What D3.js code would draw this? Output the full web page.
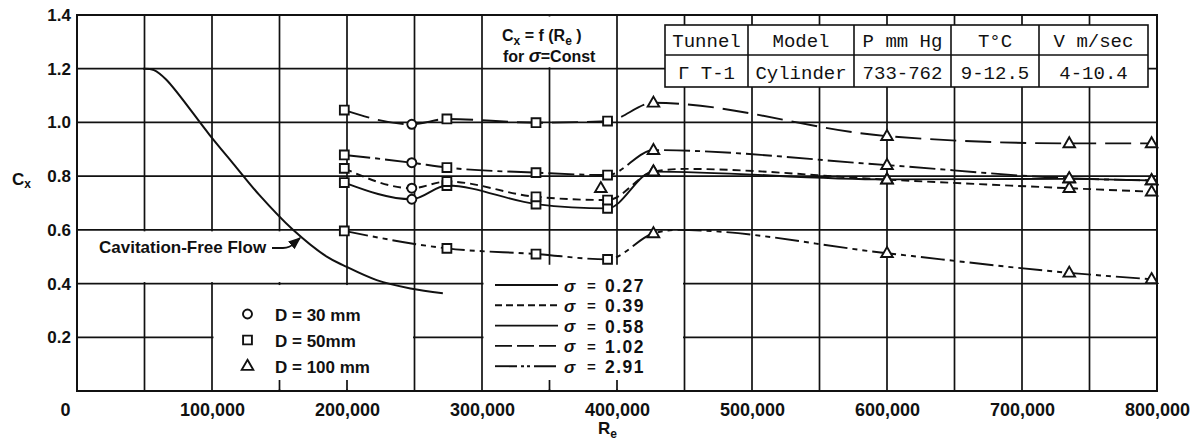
<!DOCTYPE html>
<html><head><meta charset="utf-8">
<script src="https://cdn.jsdelivr.net/npm/d3@7"></script>
<style>
body{margin:0;background:#fff;}
svg{display:block;}
text{font-family:"Liberation Sans",Arial,sans-serif;font-weight:bold;fill:#111;}
.mono{font-family:"Liberation Mono","DejaVu Sans Mono",monospace;font-weight:normal;}
</style></head><body>
<svg id="chart" width="1200" height="442"></svg>
<script>
// ---------------- data ----------------
const xTicks = [0,100000,200000,300000,400000,500000,600000,700000,800000];
const yTicks = [0.2,0.4,0.6,0.8,1.0,1.2,1.4];
const xGridVals = [50000,100000,150000,200000,250000,300000,350000,400000,450000,500000,550000,600000,650000,700000,750000];
const yGridVals = [0.2,0.4,0.6,0.8,1.0,1.2];

const sigmaLabels = ["0.27","0.39","0.58","1.02","2.91"];
const diameterLabels = ["D = 30 mm","D = 50mm","D = 100 mm"];
const diameterMarkers = ["c","s","t"];

// [Re, Cx, marker]  c = D 30 mm, s = D 50 mm, t = D 100 mm
const sigma027 = [[198000,0.776,"s"],[248000,0.714,"c"],[274000,0.765,"s"],[340000,0.696,"s"],[393000,0.680,"s"],[427000,0.817,"t"],[600000,0.788,"t"],[735000,0.790,"t"],[796000,0.784,"t"]];
const sigma039 = [[198000,0.829,"s"],[248000,0.755,"c"],[274000,0.780,"s"],[340000,0.723,"s"],[393000,0.711,"s"],[427000,0.817,"t"],[450000,0.827,null],[600000,0.787,"t"],[735000,0.755,"t"],[796000,0.742,"t"]];
const sigma058 = [[198000,0.879,"s"],[248000,0.850,"c"],[274000,0.832,"s"],[340000,0.813,"s"],[393000,0.804,"s"],[427000,0.897,"t"],[600000,0.841,"t"],[735000,0.792,"t"],[796000,0.784,"t"]];
const sigma102 = [[198000,1.046,"s"],[248000,0.993,"c"],[274000,1.013,"s"],[340000,0.999,"s"],[393000,1.005,"s"],[427000,1.073,"t"],[600000,0.949,"t"],[735000,0.922,"t"],[796000,0.922,"t"]];
const sigma291 = [[198000,0.596,"s"],[274000,0.531,"s"],[340000,0.510,"s"],[393000,0.490,"s"],[427000,0.587,"t"],[445000,0.600,null],[600000,0.513,"t"],[735000,0.440,"t"],[796000,0.416,"t"]];
const strayPoints = [[388000,0.755,"t"]];

const cavFreeRe = [49000,57000,66000,98000,116000,135000,160000,185000,197000,222000,247000,271000];
const cavFreeCx = [1.200,1.195,1.160,0.955,0.845,0.730,0.600,0.500,0.469,0.413,0.382,0.364];

const tableHead = ["Tunnel","Model","P mm Hg","T°C","V m/sec"];
const tableRow  = ["Γ T-1","Cylinder","733-762","9-12.5","4-10.4"];

// ---------------- styles ----------------
const seriesData = {"0.27":sigma027,"0.39":sigma039,"0.58":sigma058,"1.02":sigma102,"2.91":sigma291};
const plotDash   = {"0.27":null,"0.39":"8,5","0.58":"26,5,5,5","1.02":"26,9","2.91":"24,5,5,5,5,5"};
const legendDash = {"0.27":null,"0.39":"7,4","0.58":null,"1.02":"17,5","2.91":"22,4,3,3,3,4"};
const INK = "#111";

// ---------------- scales ----------------
const x = d3.scaleLinear().domain([0,800000]).range([77,1157]);
const y = d3.scaleLinear().domain([0,1.4]).range([391,15]);

const svg = d3.select("#chart");

// grid
const grid = svg.append("g").attr("stroke",INK).attr("stroke-width",1.7);
grid.selectAll("line.v").data(xGridVals).join("line")
  .attr("x1",d=>x(d)).attr("x2",d=>x(d)).attr("y1",y(1.4)).attr("y2",y(0));
grid.selectAll("line.h").data(yGridVals).join("line")
  .attr("x1",x(0)).attr("x2",x(800000)).attr("y1",d=>y(d)).attr("y2",d=>y(d));

// blanked areas of the grid (label boxes)
const blanks = svg.append("g").attr("fill","#fff");
function blank(x0,x1,y0,y1){ blanks.append("rect").attr("x",x0).attr("y",y0).attr("width",x1-x0).attr("height",y1-y0); }
blank(x(300000)+1.5, x(400000)-1.5, y(1.4)+1.5, y(1.2)-1.5);      // formula box
blank(x(0)+1.5, x(200000)-1.5, y(0.6)+1.5, y(0.4)-1.5);           // cavitation label
blank(x(100000)+1.5, x(250000)-1.5, y(0.4)+1.5, y(0)-1.5);        // D legend
blank(x(300000)+1.5, x(450000)-1.5, y(0.47), y(0)-1.5);           // sigma legend
// bottom ticks under blanked areas
const tickG = svg.append("g").attr("stroke",INK).attr("stroke-width",1.7);
[150000,200000,350000,400000].forEach(v=>{
  tickG.append("line").attr("x1",x(v)).attr("x2",x(v)).attr("y1",y(0)-11).attr("y2",y(0));
});

// frame
svg.append("rect").attr("x",x(0)).attr("y",y(1.4)).attr("width",x(800000)-x(0)).attr("height",y(0)-y(1.4))
  .attr("fill","none").attr("stroke",INK).attr("stroke-width",2);

// table
const colX = [665,748,854,951,1039,1148];
const rowY = [25,55,87];
const tbl = svg.append("g");
tbl.append("rect").attr("x",colX[0]).attr("y",rowY[0]).attr("width",colX[5]-colX[0]).attr("height",rowY[2]-rowY[0])
  .attr("fill","#fff").attr("stroke",INK).attr("stroke-width",1.6);
tbl.append("line").attr("x1",colX[0]).attr("x2",colX[5]).attr("y1",rowY[1]).attr("y2",rowY[1]).attr("stroke",INK).attr("stroke-width",1.6);
colX.slice(1,5).forEach(cx=>tbl.append("line").attr("x1",cx).attr("x2",cx).attr("y1",rowY[0]).attr("y2",rowY[2]).attr("stroke",INK).attr("stroke-width",1.6));
[tableHead,tableRow].forEach((row,ri)=>{
  tbl.selectAll(null).data(row).join("text").attr("class","mono")
    .attr("x",(d,i)=>(colX[i]+colX[i+1])/2).attr("y",ri===0?47:79)
    .attr("text-anchor","middle").attr("font-size",19).text(d=>d);
});

// curves
const line = d3.line().x(d=>x(d[0])).y(d=>y(d[1])).curve(d3.curveMonotoneX);
const curves = svg.append("g").attr("fill","none").attr("stroke",INK).attr("stroke-width",1.9);
const cavPts = cavFreeRe.map((r,i)=>[r,cavFreeCx[i]]);
curves.append("path").attr("d",d3.line().x(d=>x(d[0])).y(d=>y(d[1])).curve(d3.curveCatmullRom.alpha(0.5))(cavPts)).attr("stroke-width",2);
sigmaLabels.forEach(s=>{
  curves.append("path").attr("d",line(seriesData[s])).attr("stroke-dasharray",plotDash[s]);
});

// markers
function marker(g,type,cx,cy){
  const sym = type==="c"?d3.symbolCircle:type==="s"?d3.symbolSquare:d3.symbolTriangle;
  const size = type==="c"?64:type==="s"?78:58;
  g.append("path").attr("d",d3.symbol().type(sym).size(size)())
    .attr("transform",`translate(${cx},${cy + (type==="t"?0.5:0)})`)
    .attr("fill","#fff").attr("stroke",INK).attr("stroke-width",1.9);
}
const mg = svg.append("g");
sigmaLabels.forEach(s=>seriesData[s].forEach(d=>{ if(d[2]) marker(mg,d[2],x(d[0]),y(d[1])); }));
strayPoints.forEach(d=>marker(mg,d[2],x(d[0]),y(d[1])));

// axes
const xAxis = svg.append("g").attr("transform",`translate(0,${y(0)})`)
  .call(d3.axisBottom(x).tickValues(xTicks).tickFormat(d3.format(",")).tickSize(0).tickPadding(12));
xAxis.select(".domain").remove();
xAxis.attr("font-size",18).attr("font-family",null);
xAxis.selectAll("text").filter(d=>d===0).attr("x",-12);
const yAxis = svg.append("g").attr("transform",`translate(${x(0)},0)`)
  .call(d3.axisLeft(y).tickValues(yTicks).tickFormat(d3.format(".1f")).tickSize(0).tickPadding(6));
yAxis.select(".domain").remove();
yAxis.attr("font-size",17).attr("font-family",null);

// axis titles
const cxT = svg.append("text").attr("x",12).attr("y",185).attr("font-size",17);
cxT.append("tspan").text("C");
cxT.append("tspan").attr("font-size",12).attr("dy",3).text("x");
const reT = svg.append("text").attr("x",598).attr("y",434).attr("font-size",17);
reT.append("tspan").text("R");
reT.append("tspan").attr("font-size",12).attr("dy",4).text("e");

// formula box text
const f1 = svg.append("text").attr("x",502).attr("y",41).attr("font-size",16);
f1.append("tspan").text("C");
f1.append("tspan").attr("font-size",12).attr("dy",4).text("x");
f1.append("tspan").attr("dy",-4).text(" = f (R");
f1.append("tspan").attr("font-size",12).attr("dy",4).text("e");
f1.append("tspan").attr("dy",-4).text(" )");
const f2 = svg.append("text").attr("x",503).attr("y",62).attr("font-size",16);
f2.append("tspan").text("for ");
f2.append("tspan").attr("font-style","italic").attr("font-size",18).text("σ");
f2.append("tspan").text("=Const");

// cavitation-free label + arrow
svg.append("text").attr("x",99).attr("y",253).attr("font-size",17).text("Cavitation-Free Flow");
svg.append("defs").append("marker").attr("id","ah").attr("viewBox","0 0 10 10").attr("refX",9).attr("refY",5)
  .attr("markerWidth",7).attr("markerHeight",7).attr("orient","auto")
  .append("path").attr("d","M0,1 L10,5 L0,9 Z").attr("fill",INK);
svg.append("path").attr("d","M272,248 L283,248 Q290,248 294,243 L300,238")
  .attr("fill","none").attr("stroke",INK).attr("stroke-width",1.8).attr("marker-end","url(#ah)");

// D legend
const dl = svg.append("g");
diameterLabels.forEach((t,i)=>{
  const cy = 314 + i*26;
  marker(dl,diameterMarkers[i],247.5,cy);
  dl.append("text").attr("x",275).attr("y",cy+6.5).attr("font-size",17).text(t);
});

// sigma legend
const sl = svg.append("g");
sigmaLabels.forEach((s,i)=>{
  const cy = 285 + i*20.3;
  sl.append("line").attr("x1",495).attr("x2",558).attr("y1",cy).attr("y2",cy)
    .attr("stroke",INK).attr("stroke-width",1.9).attr("stroke-dasharray",legendDash[s]);
  sl.append("text").attr("x",564).attr("y",cy+6.5).attr("font-size",17).attr("font-style","italic").text("σ");
  sl.append("text").attr("x",587).attr("y",cy+6).attr("font-size",15).text("=");
  sl.append("text").attr("x",605).attr("y",cy+7).attr("font-size",17.5).attr("letter-spacing",1.5).text(s);
});
</script>
</body></html>
